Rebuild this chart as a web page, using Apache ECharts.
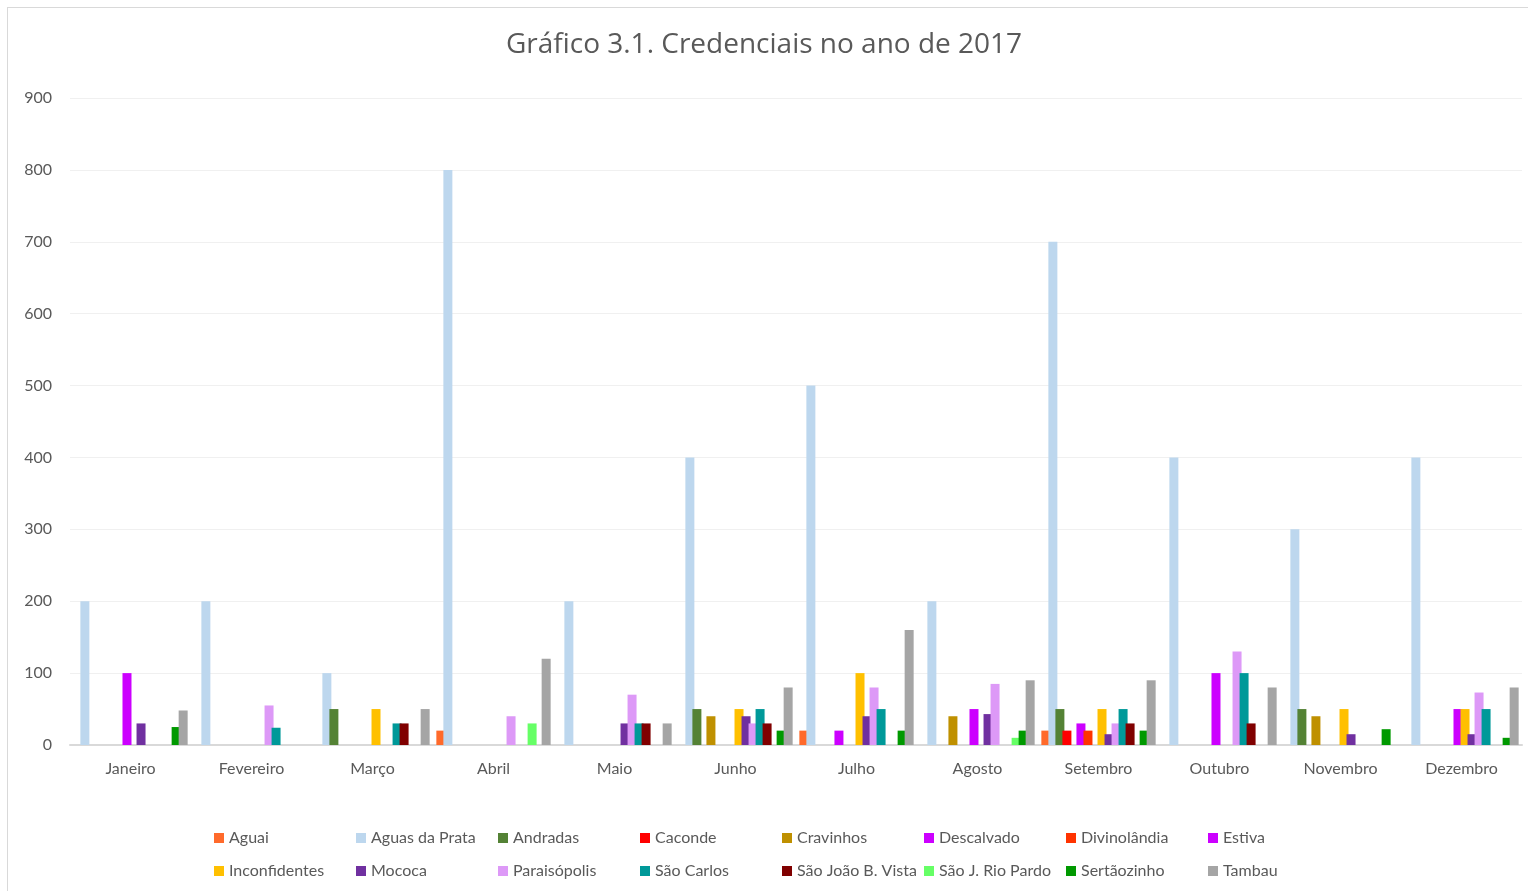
<!DOCTYPE html>
<html>
<head>
<meta charset="utf-8">
<script src="https://cdn.jsdelivr.net/npm/echarts@6/dist/echarts.min.js"></script>
<style>
  html, body { margin: 0; padding: 0; background: #fff; }
  #frame { position: absolute; left: 7px; top: 7px; width: 1530px; height: 890px; border: 1px solid #d9d9d9; box-sizing: border-box; }
  #main { position: absolute; left: 0; top: 0; width: 1528px; height: 891px; }
</style>
</head>
<body>
<div id="frame"></div>
<div id="main"></div>
<script>
var meses = ['Janeiro', 'Fevereiro', 'Março', 'Abril', 'Maio', 'Junho', 'Julho', 'Agosto', 'Setembro', 'Outubro', 'Novembro', 'Dezembro'];

var aguai         = [0, 0, 0, 20, 0, 0, 20, 0, 20, 0, 0, 0];
var aguasDaPrata  = [200, 200, 100, 800, 200, 400, 500, 200, 700, 400, 300, 400];
var andradas      = [0, 0, 50, 0, 0, 50, 0, 0, 50, 0, 50, 0];
var caconde       = [0, 0, 0, 0, 0, 0, 0, 0, 20, 0, 0, 0];
var cravinhos     = [0, 0, 0, 0, 0, 40, 0, 40, 0, 0, 40, 0];
var descalvado    = [0, 0, 0, 0, 0, 0, 20, 0, 30, 0, 0, 0];
var divinolandia  = [0, 0, 0, 0, 0, 0, 0, 0, 20, 0, 0, 0];
var estiva        = [100, 0, 0, 0, 0, 0, 0, 50, 0, 100, 0, 50];
var inconfidentes = [0, 0, 50, 0, 0, 50, 100, 0, 50, 0, 50, 50];
var mococa        = [30, 0, 0, 0, 30, 40, 40, 43, 15, 0, 15, 15];
var paraisopolis  = [0, 55, 0, 40, 70, 30, 80, 85, 30, 130, 0, 73];
var saoCarlos     = [0, 24, 30, 0, 30, 50, 50, 0, 50, 100, 0, 50];
var saoJoao       = [0, 0, 30, 0, 30, 30, 0, 0, 30, 30, 0, 0];
var saoJRioPardo  = [0, 0, 0, 30, 0, 0, 0, 10, 0, 0, 0, 0];
var sertaozinho   = [25, 0, 0, 0, 0, 20, 20, 20, 20, 0, 22, 10];
var tambau        = [48, 0, 50, 120, 30, 80, 160, 90, 90, 80, 0, 80];

var nomes = ['Aguai', 'Aguas da Prata', 'Andradas', 'Caconde', 'Cravinhos', 'Descalvado', 'Divinolândia', 'Estiva',
    'Inconfidentes', 'Mococa', 'Paraisópolis', 'São Carlos', 'São João B. Vista', 'São J. Rio Pardo', 'Sertãozinho', 'Tambau'];
var valores = [aguai, aguasDaPrata, andradas, caconde, cravinhos, descalvado, divinolandia, estiva,
    inconfidentes, mococa, paraisopolis, saoCarlos, saoJoao, saoJRioPardo, sertaozinho, tambau];
var cores = ['#ff6a2b', '#bdd7ee', '#548235', '#ff0000', '#bf9000', '#cc00ff', '#ff3300', '#cc00ff',
    '#ffc000', '#7030a0', '#dd99f7', '#009999', '#800000', '#66ff66', '#009900', '#a5a5a5'];

var fonte = 'Lato, "Open Sans", sans-serif';

var series = nomes.map(function (nome, i) {
    return {
        name: nome,
        type: 'bar',
        barWidth: 9,
        barGap: '-22%',
        data: valores[i],
        itemStyle: { color: cores[i] }
    };
});

var myChart = echarts.init(document.getElementById('main'));
var option = {
    animation: false,
    color: cores,
    title: {
        text: 'Gráfico 3.1. Credenciais no ano de 2017',
        left: 'center',
        top: 26,
        textStyle: {
            color: '#595959',
            fontFamily: '"Open Sans", Lato, sans-serif',
            fontWeight: 'normal',
            fontSize: 28
        }
    },
    grid: {
        left: 70,
        right: 6,
        top: 98,
        bottom: 146
    },
    legend: {
        left: 209,
        top: 820,
        width: 1160,
        itemWidth: 10,
        itemHeight: 10,
        itemGap: 7,
        icon: 'rect',
        textStyle: {
            color: '#595959',
            fontFamily: fonte,
            fontSize: 16,
            width: 120,
            lineHeight: 26
        },
        data: nomes
    },
    xAxis: {
        type: 'category',
        data: meses,
        axisLine: { lineStyle: { color: '#d9d9d9', width: 2 } },
        axisTick: { show: false },
        axisLabel: {
            color: '#595959',
            fontFamily: fonte,
            fontSize: 16,
            margin: 16
        }
    },
    yAxis: {
        type: 'value',
        min: 0,
        max: 900,
        interval: 100,
        axisLine: { show: false },
        axisTick: { show: false },
        axisLabel: {
            color: '#595959',
            fontFamily: fonte,
            fontSize: 16,
            margin: 18
        },
        splitLine: { lineStyle: { color: '#f0f0f0', width: 1 } }
    },
    series: series
};
myChart.setOption(option);
</script>
</body>
</html>
